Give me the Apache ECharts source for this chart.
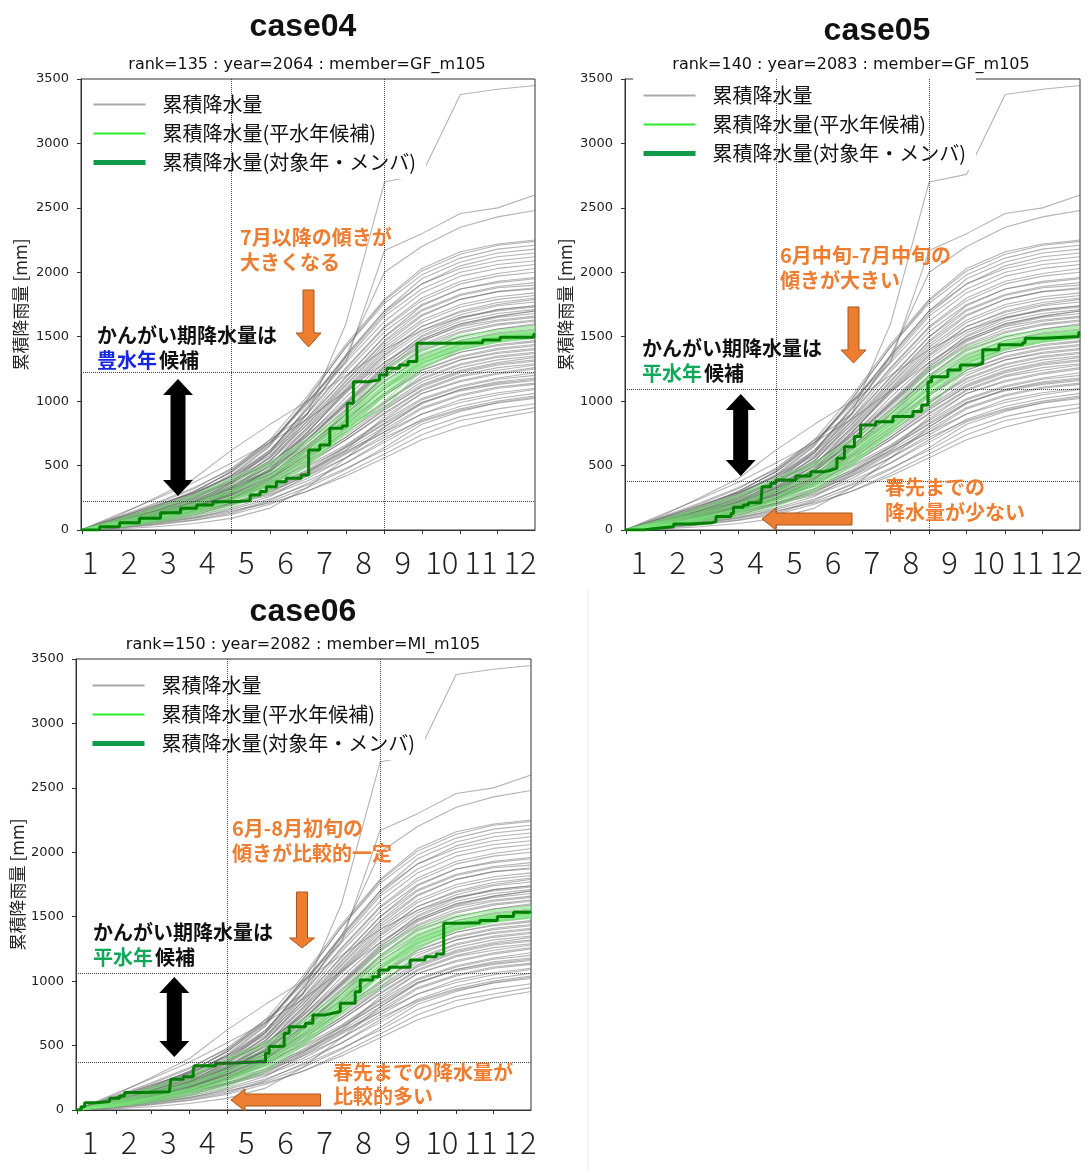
<!DOCTYPE html>
<html>
<head>
<meta charset="utf-8">
<script src="https://cdn.jsdelivr.net/npm/echarts@6/dist/echarts.min.js"></script>
<style>
  html, body { margin: 0; padding: 0; background: #fff; }
  #chart { width: 1088px; height: 1171px; }
</style>
</head>
<body>
<div id="chart"></div>
<script>
// x axis: day of year (Jan 1 = day 1), ticks at the first day of every month
const monthStartDays = [1, 32, 60, 91, 121, 152, 182, 213, 244, 274, 305, 335]
const monthLabels = [1, 2, 3, 4, 5, 6, 7, 8, 9, 10, 11, 12]
// irrigation period (May 1 - Sep 1) marked with dotted lines
const irrigationDays = [121, 244]

// ensemble members are sampled at month starts
const sampleDays = [0, 32, 60, 91, 121, 152, 182, 213, 244, 274, 305, 335, 365]

// 累積降水量 (all years / members)
const grayMembers = [
  [0, 30, 60, 100, 150, 210, 300, 420, 560, 700, 800, 870, 920],
  [0, 25, 55, 95, 160, 240, 350, 480, 620, 780, 880, 940, 980],
  [0, 45, 90, 140, 200, 270, 380, 520, 680, 840, 930, 985, 1020],
  [0, 20, 50, 90, 140, 230, 360, 520, 700, 860, 960, 1020, 1060],
  [0, 40, 85, 140, 210, 300, 420, 560, 740, 900, 1010, 1065, 1100],
  [0, 35, 70, 120, 190, 290, 430, 600, 780, 950, 1050, 1110, 1140],
  [0, 50, 100, 170, 250, 340, 460, 620, 800, 980, 1090, 1150, 1180],
  [0, 30, 70, 130, 210, 320, 470, 650, 850, 1020, 1120, 1180, 1220],
  [0, 55, 110, 180, 270, 370, 500, 660, 860, 1060, 1160, 1220, 1260],
  [0, 40, 80, 150, 230, 350, 520, 700, 910, 1090, 1200, 1260, 1290],
  [0, 60, 120, 190, 280, 400, 540, 720, 930, 1120, 1230, 1290, 1320],
  [0, 35, 90, 160, 250, 370, 560, 760, 960, 1150, 1260, 1320, 1350],
  [0, 45, 95, 170, 260, 380, 540, 780, 1000, 1180, 1290, 1350, 1380],
  [0, 70, 140, 220, 320, 430, 580, 760, 980, 1200, 1320, 1380, 1410],
  [0, 30, 80, 150, 240, 370, 570, 800, 1040, 1240, 1350, 1410, 1440],
  [0, 50, 100, 180, 280, 410, 600, 820, 1060, 1260, 1380, 1440, 1470],
  [0, 40, 90, 160, 260, 400, 620, 850, 1100, 1290, 1410, 1470, 1500],
  [0, 80, 150, 240, 340, 460, 640, 860, 1100, 1320, 1440, 1500, 1530],
  [0, 55, 110, 190, 290, 430, 650, 900, 1150, 1350, 1470, 1530, 1560],
  [0, 35, 80, 150, 250, 400, 640, 920, 1190, 1390, 1500, 1560, 1590],
  [0, 60, 120, 200, 310, 460, 680, 940, 1200, 1410, 1530, 1590, 1620],
  [0, 45, 100, 180, 290, 450, 700, 980, 1250, 1440, 1560, 1620, 1650],
  [0, 70, 140, 230, 340, 490, 710, 970, 1240, 1460, 1590, 1650, 1680],
  [0, 50, 110, 190, 300, 470, 730, 1030, 1300, 1500, 1620, 1680, 1710],
  [0, 90, 170, 270, 380, 520, 740, 1000, 1280, 1510, 1640, 1710, 1740],
  [0, 40, 100, 180, 300, 480, 760, 1070, 1350, 1550, 1670, 1740, 1770],
  [0, 65, 130, 220, 340, 510, 780, 1080, 1360, 1580, 1700, 1765, 1800],
  [0, 50, 110, 200, 320, 500, 800, 1120, 1420, 1630, 1750, 1810, 1840],
  [0, 80, 160, 260, 380, 560, 820, 1130, 1440, 1660, 1790, 1850, 1880],
  [0, 45, 110, 200, 330, 530, 850, 1190, 1500, 1710, 1830, 1890, 1920],
  [0, 100, 190, 290, 420, 600, 870, 1180, 1500, 1740, 1870, 1930, 1960],
  [0, 60, 130, 230, 360, 570, 900, 1250, 1570, 1780, 1910, 1970, 2000],
  [0, 70, 150, 260, 400, 620, 940, 1300, 1620, 1840, 1970, 2030, 2060],
  [0, 55, 120, 220, 370, 600, 960, 1360, 1700, 1910, 2030, 2090, 2120],
  [0, 110, 210, 330, 470, 680, 990, 1350, 1700, 1950, 2080, 2150, 2180],
  [0, 80, 160, 280, 430, 660, 1020, 1420, 1780, 2010, 2140, 2210, 2240],
  [0, 120, 250, 400, 620, 820, 1000, 1200, 1400, 1550, 1650, 1700, 1730],
  [0, 10, 25, 50, 90, 170, 330, 560, 800, 990, 1080, 1130, 1160],
  [0, 20, 45, 80, 130, 220, 330, 470, 640, 820, 920, 990, 1030],
  [0, 55, 100, 150, 210, 280, 400, 560, 720, 850, 940, 1000, 1040],
  [0, 30, 65, 110, 170, 260, 420, 590, 760, 900, 990, 1050, 1090],
  [0, 45, 95, 160, 230, 320, 450, 610, 760, 940, 1040, 1100, 1130],
  [0, 25, 60, 115, 200, 310, 450, 640, 820, 990, 1090, 1140, 1170],
  [0, 65, 120, 180, 250, 350, 490, 640, 830, 1010, 1110, 1170, 1200],
  [0, 40, 75, 130, 200, 300, 440, 620, 880, 1060, 1150, 1210, 1250],
  [0, 50, 105, 170, 260, 360, 510, 700, 900, 1080, 1190, 1240, 1280],
  [0, 30, 75, 140, 230, 360, 530, 720, 940, 1110, 1220, 1280, 1310],
  [0, 75, 140, 210, 300, 410, 560, 740, 950, 1130, 1240, 1300, 1340],
  [0, 50, 100, 170, 270, 400, 580, 790, 990, 1170, 1280, 1340, 1370],
  [0, 35, 80, 150, 250, 390, 590, 820, 1050, 1220, 1320, 1370, 1400],
  [0, 60, 120, 200, 300, 440, 620, 840, 1060, 1240, 1340, 1400, 1430],
  [0, 45, 100, 170, 270, 420, 630, 860, 1100, 1270, 1380, 1430, 1460],
  [0, 85, 150, 230, 330, 470, 660, 880, 1120, 1300, 1400, 1460, 1490],
  [0, 40, 95, 170, 280, 430, 650, 900, 1160, 1330, 1440, 1490, 1520],
  [0, 60, 130, 210, 310, 460, 680, 930, 1180, 1360, 1470, 1520, 1550],
  [0, 30, 70, 140, 240, 390, 620, 900, 1200, 1400, 1500, 1560, 1600],
  [0, 70, 130, 210, 320, 470, 700, 960, 1230, 1430, 1540, 1600, 1630],
  [0, 50, 110, 190, 300, 460, 700, 990, 1270, 1470, 1580, 1630, 1660],
  [0, 95, 170, 260, 370, 520, 730, 980, 1260, 1480, 1600, 1660, 1700],
  [0, 55, 120, 210, 330, 500, 760, 1060, 1330, 1530, 1650, 1710, 1740],
  [0, 40, 90, 170, 290, 470, 750, 1090, 1380, 1580, 1690, 1750, 1790],
  [0, 75, 150, 250, 370, 540, 790, 1100, 1400, 1610, 1730, 1790, 1820],
  [0, 60, 130, 220, 350, 540, 820, 1150, 1460, 1670, 1790, 1850, 1870],
  [0, 105, 190, 290, 410, 580, 840, 1160, 1470, 1700, 1820, 1880, 1900],
  [0, 50, 120, 220, 360, 560, 870, 1230, 1540, 1750, 1870, 1920, 1950],
  [0, 85, 170, 280, 420, 620, 910, 1260, 1580, 1800, 1930, 1990, 2030],
  [0, 65, 140, 250, 390, 610, 940, 1320, 1660, 1870, 2000, 2060, 2090],
  [0, 90, 180, 300, 450, 670, 980, 1340, 1680, 1910, 2050, 2120, 2150],
  [0, 70, 150, 270, 420, 650, 1010, 1420, 1760, 1980, 2110, 2180, 2210],
  [0, 100, 200, 320, 480, 700, 1040, 1440, 1790, 2030, 2160, 2220, 2250],
  [0, 15, 40, 75, 120, 200, 300, 440, 590, 740, 850, 900, 950],
  [0, 130, 240, 370, 520, 680, 860, 1080, 1300, 1480, 1600, 1660, 1700],
  [0, 60, 130, 240, 380, 600, 900, 1350, 2000, 2200, 2350, 2430, 2480],
  [0, 90, 180, 300, 450, 680, 1000, 1300, 2170, 2300, 2456, 2500, 2600],
  [0, 80, 170, 290, 460, 700, 900, 1600, 2700, 2760, 3380, 3420, 3450]
]

// 累積降水量(平水年候補)
const candidateMembers = [
  [0, 40, 90, 150, 230, 340, 520, 760, 1050, 1280, 1400, 1460, 1490],
  [0, 60, 120, 200, 300, 420, 600, 820, 1100, 1300, 1420, 1480, 1510],
  [0, 30, 70, 130, 200, 320, 500, 750, 1000, 1260, 1400, 1470, 1500],
  [0, 70, 140, 230, 340, 470, 650, 880, 1150, 1350, 1460, 1510, 1540],
  [0, 50, 100, 170, 260, 380, 560, 800, 1080, 1310, 1430, 1490, 1520],
  [0, 35, 80, 140, 220, 350, 560, 830, 1120, 1330, 1450, 1500, 1530],
  [0, 80, 160, 260, 380, 500, 680, 900, 1180, 1370, 1470, 1520, 1550],
  [0, 45, 95, 160, 250, 360, 540, 780, 1040, 1290, 1420, 1480, 1510],
  [0, 55, 110, 190, 290, 420, 620, 860, 1130, 1340, 1450, 1510, 1545],
  [0, 25, 60, 110, 180, 300, 500, 780, 1060, 1300, 1430, 1490, 1520],
  [0, 65, 130, 210, 310, 440, 630, 850, 1200, 1390, 1490, 1540, 1570],
  [0, 40, 90, 160, 260, 400, 600, 840, 1100, 1320, 1440, 1500, 1535],
  [0, 90, 170, 270, 400, 520, 700, 920, 1250, 1420, 1510, 1550, 1580],
  [0, 30, 75, 140, 230, 370, 580, 820, 940, 1250, 1400, 1460, 1500]
]

// 累積降水量(対象年・メンバ) for each case
const case04Days = [0, 15, 31, 47, 64, 80, 93, 106, 122, 133, 136, 144, 149, 157, 165, 177, 183, 192, 200, 210, 214, 219, 231, 240, 246, 256, 263, 270, 297, 323, 337, 364, 365]
const case04Vals = [0, 26, 57, 91, 134, 168, 194, 220, 225, 228, 272, 298, 336, 375, 401, 427, 621, 660, 790, 807, 984, 1151, 1165, 1203, 1255, 1281, 1307, 1450, 1454, 1475, 1496, 1519, 1520]
const case04Marks = [223, 1221]

const case05Days = [0, 15, 26, 39, 53, 70, 73, 85, 87, 95, 99, 109, 110, 117, 121, 128, 137, 149, 160, 166, 170, 176, 184, 189, 201, 215, 231, 238, 243, 246, 259, 269, 283, 287, 298, 300, 319, 321, 336, 364, 365]
const case05Vals = [0, 13, 26, 47, 57, 65, 104, 129, 176, 194, 212, 212, 336, 362, 388, 388, 419, 453, 466, 479, 556, 647, 725, 815, 841, 880, 919, 971, 1151, 1190, 1242, 1281, 1294, 1398, 1398, 1437, 1454, 1488, 1501, 1532, 1533]
const case05Marks = [375, 1092]

const case06Days = [0, 4, 7, 16, 27, 35, 39, 53, 75, 76, 86, 94, 95, 112, 123, 147, 152, 155, 163, 167, 171, 184, 190, 200, 206, 212, 220, 224, 228, 238, 243, 251, 257, 268, 280, 289, 295, 308, 324, 338, 351, 364, 365]
const case06Vals = [0, 26, 57, 65, 91, 109, 135, 142, 150, 238, 259, 311, 344, 363, 375, 375, 440, 492, 497, 595, 647, 673, 738, 751, 764, 828, 828, 918, 1009, 1035, 1087, 1108, 1108, 1165, 1190, 1211, 1450, 1454, 1470, 1501, 1535, 1540, 1541]
const case06Marks = [370, 1061]

const NAME_ALL = '累積降水量'
const NAME_CAND = '累積降水量(平水年候補)'
const NAME_TARGET = '累積降水量(対象年・メンバ)'
const CJK = '"Noto Sans CJK JP", sans-serif'
const ORANGE = '#ED7D31'

// panel layout (pixels)
const panels = [
  { left: 81, right: 535, top: 79, bottom: 530, label1: 90, label12: 520, nameGap: 52,
    legendLeft: 83, legendTop: 85, days: case04Days, vals: case04Vals, marks: case04Marks },
  { left: 625, right: 1080, top: 79, bottom: 530, label1: 639, label12: 1066, nameGap: 51,
    legendLeft: 633, legendTop: 76, days: case05Days, vals: case05Vals, marks: case05Marks },
  { left: 76, right: 531, top: 659, bottom: 1110, label1: 90, label12: 520, nameGap: 50,
    legendLeft: 82, legendTop: 666, days: case06Days, vals: case06Vals, marks: case06Marks }
]

const chart = echarts.init(document.getElementById('chart'))

const grid = []
const xAxis = []
const labelAxes = []
const yAxis = []
const legend = []
const series = []
const noSymbol = { opacity: 0 }

panels.forEach((p, i) => {
  grid.push({
    left: p.left, top: p.top, width: p.right - p.left, height: p.bottom - p.top,
    show: true, borderColor: '#333', borderWidth: 1, backgroundColor: 'transparent'
  })
  xAxis.push({
    type: 'value', gridIndex: i, min: 0, max: 365, position: 'bottom',
    axisLine: { show: true, lineStyle: { color: '#333' } },
    axisTick: { show: true, length: 4, customValues: monthStartDays, lineStyle: { color: '#333' } },
    axisLabel: { show: false },
    splitLine: { show: false }
  })
  // month numbers are placed on their own scale, as in the original figure
  const unit = (p.label12 - p.label1) / 11
  labelAxes.push({
    type: 'value', gridIndex: i, position: 'bottom',
    min: 1 - (p.label1 - p.left) / unit,
    max: 1 + (p.right - p.label1) / unit,
    axisLine: { show: false },
    axisTick: { show: false },
    splitLine: { show: false },
    axisLabel: {
      customValues: monthLabels, margin: 17, fontSize: 31, fontWeight: 300,
      fontFamily: CJK, color: '#222'
    }
  })
  yAxis.push({
    type: 'value', gridIndex: i, min: 0, max: 3500, interval: 500,
    name: '累積降雨量 [mm]', nameLocation: 'middle', nameRotate: 90, nameGap: p.nameGap,
    nameTextStyle: { fontFamily: CJK, fontSize: 17, color: '#222' },
    axisLine: { show: true, lineStyle: { color: '#333' } },
    axisTick: { show: true, length: 4, lineStyle: { color: '#333' } },
    axisLabel: {
      fontFamily: 'DejaVu Sans', fontSize: 13, color: '#222', margin: 12,
      formatter: v => String(v)
    },
    splitLine: { show: false }
  })
  legend.push({
    orient: 'vertical', left: p.legendLeft, top: p.legendTop,
    padding: [9, 10, 6, 8], backgroundColor: '#fff',
    itemWidth: 52, itemHeight: 14, itemGap: 8, selectedMode: false,
    textStyle: { fontFamily: CJK, fontSize: 20, color: '#111', lineHeight: 21, padding: [0, 0, 0, 12] },
    data: [
      { name: NAME_ALL, itemStyle: noSymbol, lineStyle: { color: '#a8a8a8', width: 2, opacity: 1 } },
      { name: NAME_CAND, itemStyle: noSymbol, lineStyle: { color: '#2eea2e', width: 2, opacity: 1 } },
      { name: NAME_TARGET, itemStyle: noSymbol, lineStyle: { color: '#0f9b4a', width: 5, opacity: 1 } }
    ]
  })

  grayMembers.forEach(m => {
    series.push({
      name: NAME_ALL, type: 'line', xAxisIndex: i, yAxisIndex: i,
      symbol: 'none', silent: true, z: 2,
      lineStyle: { color: '#6a6a6a', width: 1.1, opacity: 0.5 },
      data: sampleDays.map((d, k) => [d, m[k]])
    })
  })
  candidateMembers.forEach(m => {
    series.push({
      name: NAME_CAND, type: 'line', xAxisIndex: i, yAxisIndex: i,
      symbol: 'none', silent: true, z: 2,
      lineStyle: { color: '#78ea78', width: 1.6, opacity: 0.55 },
      data: sampleDays.map((d, k) => [d, m[k]])
    })
  })
  series.push({
    name: NAME_TARGET, type: 'line', xAxisIndex: i, yAxisIndex: i,
    symbol: 'none', silent: true, z: 3, step: 'end',
    lineStyle: { color: '#008000', width: 3 },
    data: p.days.map((d, k) => [d, p.vals[k]]),
    markLine: {
      silent: true, symbol: ['none', 'none'], label: { show: false },
      lineStyle: { type: 'dotted', color: '#444', width: 1 },
      data: [
        { xAxis: irrigationDays[0] }, { xAxis: irrigationDays[1] },
        { yAxis: p.marks[0] }, { yAxis: p.marks[1] }
      ]
    }
  })
})

// annotation helpers
function txt (text, x, y, fill, font) {
  return {
    type: 'text', z: 10,
    style: { text: text, x: x, y: y, fill: fill, verticalAlign: 'middle', font: font || ('bold 20px ' + CJK) }
  }
}
function title (text, x, y, font) {
  return {
    type: 'text', z: 10,
    style: { text: text, x: x, y: y, fill: '#111', align: 'center', verticalAlign: 'middle', font: font }
  }
}
function downArrow (cx, top, headTop, tip) {
  return {
    type: 'polygon', z: 10,
    shape: { points: [[cx - 5.5, top], [cx + 5.5, top], [cx + 5.5, headTop], [cx + 12.5, headTop], [cx, tip], [cx - 12.5, headTop], [cx - 5.5, headTop]] },
    style: { fill: ORANGE, stroke: '#A9561F', lineWidth: 1 }
  }
}
function leftArrow (tipX, cy, headX, tailX) {
  return {
    type: 'polygon', z: 10,
    shape: { points: [[tipX, cy], [headX, cy - 11], [headX, cy - 6], [tailX, cy - 6], [tailX, cy + 6], [headX, cy + 6], [headX, cy + 11]] },
    style: { fill: ORANGE, stroke: '#A9561F', lineWidth: 1 }
  }
}
function doubleArrow (cx, top, bottom) {
  return {
    type: 'polygon', z: 10,
    shape: { points: [[cx, top], [cx + 15, top + 16], [cx + 7.5, top + 16], [cx + 7.5, bottom - 16], [cx + 15, bottom - 16], [cx, bottom], [cx - 15, bottom - 16], [cx - 7.5, bottom - 16], [cx - 7.5, top + 16], [cx - 15, top + 16]] },
    style: { fill: '#000' }
  }
}

const TITLE_FONT = 'bold 32px "Liberation Sans", Arial, sans-serif'
const SUB_FONT = '16px "DejaVu Sans", sans-serif'

const graphic = [
  { type: 'line', shape: { x1: 588, y1: 590, x2: 588, y2: 1171 }, style: { stroke: '#e8e8e8', lineWidth: 1 } },
  title('case04', 303, 27, TITLE_FONT),
  title('rank=135 : year=2064 : member=GF_m105', 307, 65, SUB_FONT),
  title('case05', 877, 31, TITLE_FONT),
  title('rank=140 : year=2083 : member=GF_m105', 851, 65, SUB_FONT),
  title('case06', 303, 612, TITLE_FONT),
  title('rank=150 : year=2082 : member=MI_m105', 303, 645, SUB_FONT),

  // case04
  txt('7月以降の傾きが', 240, 237, ORANGE),
  txt('大きくなる', 240, 262, ORANGE),
  downArrow(308.5, 290, 333, 347),
  txt('かんがい期降水量は', 97, 335, '#111'),
  txt('豊水年', 97, 360, '#1428E0'),
  txt('候補', 159, 360, '#111'),
  doubleArrow(178, 379, 496),

  // case05
  txt('6月中旬-7月中旬の', 780, 255, ORANGE),
  txt('傾きが大きい', 780, 280, ORANGE),
  downArrow(853.5, 307, 350, 363),
  txt('かんがい期降水量は', 642, 348, '#111'),
  txt('平水年', 642, 373, '#12A85A'),
  txt('候補', 704, 373, '#111'),
  doubleArrow(740.7, 394, 476),
  leftArrow(762, 519, 776, 852),
  txt('春先までの', 885, 487, ORANGE),
  txt('降水量が少ない', 885, 512, ORANGE),

  // case06
  txt('6月-8月初旬の', 232, 828, ORANGE),
  txt('傾きが比較的一定', 232, 853, ORANGE),
  downArrow(302, 892, 938, 948),
  txt('かんがい期降水量は', 93, 932, '#111'),
  txt('平水年', 93, 957, '#12A85A'),
  txt('候補', 155, 957, '#111'),
  doubleArrow(174.3, 977, 1057),
  leftArrow(231, 1100, 245, 320.5),
  txt('春先までの降水量が', 333, 1072, ORANGE),
  txt('比較的多い', 333, 1096, ORANGE)
]

chart.setOption({
  animation: false,
  backgroundColor: '#fff',
  grid: grid,
  xAxis: xAxis.concat(labelAxes),
  yAxis: yAxis,
  legend: legend,
  series: series,
  graphic: graphic
})
</script>
</body>
</html>
